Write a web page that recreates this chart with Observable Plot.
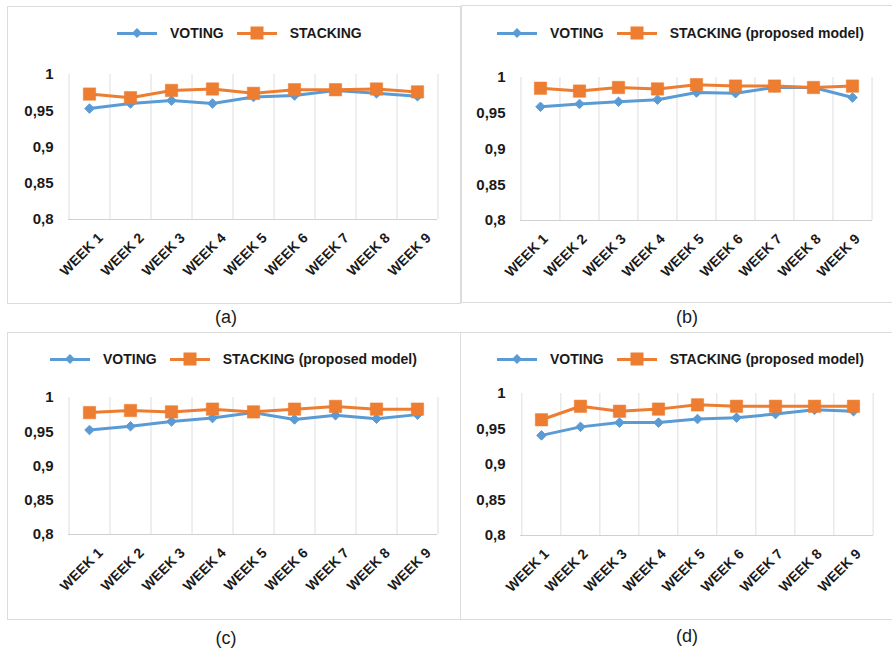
<!DOCTYPE html>
<html><head><meta charset="utf-8">
<script src="https://cdn.jsdelivr.net/npm/d3@7"></script>
<script src="https://cdn.jsdelivr.net/npm/@observablehq/plot@0.6"></script>
<style>
body{margin:0;background:#fff;font-family:"Liberation Sans",Arial,sans-serif;}
#root{position:relative;width:892px;height:652px;overflow:hidden;background:#fff;}
.box{position:absolute;border:1px solid #dcdcdc;box-sizing:border-box;}
.chart{position:absolute;}
.legend{position:absolute;display:flex;align-items:center;font-weight:bold;font-size:14px;color:#1a1a1a;height:20px;white-space:nowrap;}
.sw{position:relative;width:40px;height:3px;margin-right:13px;}
.sw i{position:absolute;left:50%;top:50%;display:block;}
.txt{margin-right:13px;}
.cap{position:absolute;font-size:18px;transform:translate(-50%,-50%);color:#1a1a1a;}
</style></head><body><div id="root"></div>
<script>
// ---- data ----
const weeks = ["WEEK 1","WEEK 2","WEEK 3","WEEK 4","WEEK 5","WEEK 6","WEEK 7","WEEK 8","WEEK 9"];
const yTicks = [0.8, 0.85, 0.9, 0.95, 1];
const seriesNames = ["VOTING", "STACKING"];
const legendLabelsA = ["VOTING", "STACKING"];
const legendLabelsBCD = ["VOTING", "STACKING (proposed model)"];
const captions = ["(a)", "(b)", "(c)", "(d)"];

const votingA   = [0.953, 0.960, 0.964, 0.960, 0.969, 0.971, 0.978, 0.974, 0.970];
const stackingA = [0.973, 0.968, 0.978, 0.980, 0.974, 0.979, 0.979, 0.980, 0.976];
const votingB   = [0.959, 0.963, 0.966, 0.969, 0.979, 0.978, 0.986, 0.986, 0.972];
const stackingB = [0.985, 0.981, 0.986, 0.984, 0.990, 0.988, 0.988, 0.986, 0.988];
const votingC   = [0.9525, 0.958, 0.965, 0.970, 0.978, 0.968, 0.974, 0.969, 0.975];
const stackingC = [0.978, 0.981, 0.979, 0.983, 0.979, 0.983, 0.987, 0.983, 0.983];
const votingD   = [0.941, 0.953, 0.959, 0.959, 0.964, 0.966, 0.971, 0.977, 0.975];
const stackingD = [0.963, 0.982, 0.975, 0.978, 0.984, 0.982, 0.982, 0.982, 0.982];

const BLUE = "#5B9BD5", ORANGE = "#ED7D31";

// ---- layout ----
const panels = [
  {voting: votingA, stacking: stackingA, labels: legendLabelsA, cap: captions[0],
   box:[7,6,454,298], svg:[7,60,453,240], m:[14,23,81,61], legend:[117,23], capPos:[226,317], ldx: 11},
  {voting: votingB, stacking: stackingB, labels: legendLabelsBCD, cap: captions[1],
   box:[461,5,440,298], svg:[461,60,431,240], m:[17,20,80,59], legend:[497,23], capPos:[687,317], ldx: 5},
  {voting: votingC, stacking: stackingC, labels: legendLabelsBCD, cap: captions[2],
   box:[7,332,454,288], svg:[7,380,453,240], m:[17,23,86,61], legend:[50,349], capPos:[226,638], ldx: 11},
  {voting: votingD, stacking: stackingD, labels: legendLabelsBCD, cap: captions[3],
   box:[460,332,440,288], svg:[460,380,432,240], m:[13,19,85,60], legend:[497,349], capPos:[687,636], ldx: 5}
];

const root = document.getElementById("root");

function makePanel(p){
  const box = document.createElement("div");
  box.className = "box";
  Object.assign(box.style,{left:p.box[0]+"px",top:p.box[1]+"px",width:p.box[2]+"px",height:p.box[3]+"px"});
  root.appendChild(box);

  const [mt, mr, mb, ml] = p.m;
  const W = p.svg[2], H = p.svg[3];
  const step = (W - ml - mr) / weeks.length;
  const vData = weeks.map((w,i)=>({week:w, model:seriesNames[0], v:p.voting[i]}));
  const sData = weeks.map((w,i)=>({week:w, model:seriesNames[1], v:p.stacking[i]}));

  const chart = Plot.plot({
    width: W, height: H, marginTop: mt, marginRight: mr, marginBottom: mb, marginLeft: ml,
    style: {fontFamily: "'Liberation Sans', Arial, sans-serif", background: "transparent", color: "#1a1a1a", overflow: "visible"},
    x: {type: "point", domain: weeks, padding: 0.5, label: null},
    y: {domain: [0.8, 1], label: null},
    marks: [
      Plot.ruleX(weeks, {x: d => d, dx: -step/2, stroke: "#dedede", strokeWidth: 1}),
      Plot.ruleX(weeks.slice(-1), {x: d => d, dx: step/2, stroke: "#dedede", strokeWidth: 1}),
      Plot.ruleY([0.8], {stroke: "#d0d0d0", strokeWidth: 1}),
      Plot.axisY({ticks: yTicks, tickSize: 0, tickPadding: 15, tickFormat: d => String(d).replace(".", ","),
                  fontSize: 15, fontWeight: "bold", label: null}),
      Plot.axisX({tickSize: 0, tickRotate: -45, tickPadding: 16, dx: p.ldx, fontSize: 14, fontWeight: "bold", label: null}),
      Plot.line(vData, {x: "week", y: "v", stroke: BLUE, strokeWidth: 3}),
      Plot.dot(vData, {x: "week", y: "v", symbol: "diamond2", r: 4.3, fill: BLUE, stroke: BLUE, strokeWidth: 1}),
      Plot.line(sData, {x: "week", y: "v", stroke: ORANGE, strokeWidth: 3}),
      Plot.dot(sData, {x: "week", y: "v", symbol: "square", r: 7, fill: ORANGE, stroke: ORANGE, strokeWidth: 0.5})
    ]
  });
  chart.classList.add("chart");
  chart.style.left = p.svg[0] + "px";
  chart.style.top = p.svg[1] + "px";
  root.appendChild(chart);

  // legend
  const lg = document.createElement("div");
  lg.className = "legend";
  lg.style.left = p.legend[0] + "px";
  lg.style.top = p.legend[1] + "px";
  const items = [
    {label: p.labels[0], color: BLUE, marker: "diamond"},
    {label: p.labels[1], color: ORANGE, marker: "square"}
  ];
  items.forEach(it => {
    const sw = document.createElement("span");
    sw.className = "sw";
    sw.style.background = it.color;
    const mk = document.createElement("i");
    if (it.marker === "diamond") {
      Object.assign(mk.style, {width:"7px",height:"7px",background:it.color,transform:"translate(-50%,-50%) rotate(45deg)"});
    } else {
      Object.assign(mk.style, {width:"13px",height:"13px",background:it.color,transform:"translate(-50%,-50%)"});
    }
    sw.appendChild(mk);
    lg.appendChild(sw);
    const t = document.createElement("span");
    t.className = "txt";
    t.textContent = it.label;
    lg.appendChild(t);
  });
  root.appendChild(lg);

  const cap = document.createElement("div");
  cap.className = "cap";
  cap.textContent = p.cap;
  cap.style.left = p.capPos[0] + "px";
  cap.style.top = p.capPos[1] + "px";
  root.appendChild(cap);
}

panels.forEach(makePanel);
</script>
</body></html>
